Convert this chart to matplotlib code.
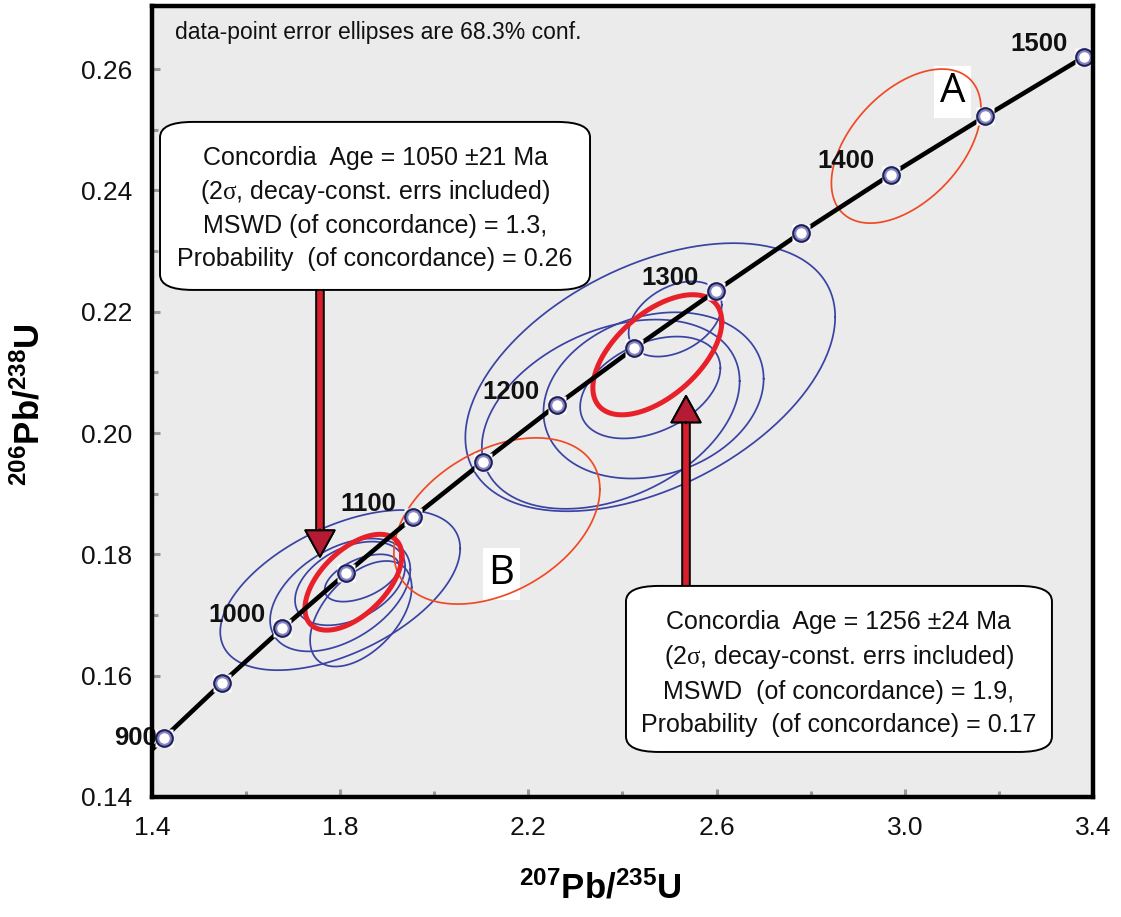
#!/usr/bin/python
# -*- coding:utf-8 -*-
import numpy as np
import matplotlib as mpl
mpl.use('Agg')
from matplotlib import pyplot as plt
from matplotlib.patches import FancyBboxPatch, FancyArrowPatch

plt.rcParams['font.family'] = ['Liberation Sans', 'DejaVu Sans']
plt.rcParams['mathtext.fontset'] = 'custom'
plt.rcParams['mathtext.rm'] = 'Liberation Serif'
plt.rcParams['mathtext.it'] = 'Liberation Serif:italic'
plt.rcParams['mathtext.bf'] = 'Liberation Sans:bold'

# concordia curve, 50 Ma steps
ages = [850, 900, 950, 1000, 1050, 1100, 1150, 1200, 1250, 1300, 1350, 1400, 1450, 1500]
conc_x = [1.310, 1.426, 1.549, 1.677, 1.813, 1.955, 2.104, 2.260, 2.425, 2.598, 2.779, 2.970, 3.171, 3.381]
conc_y = [0.1409, 0.1498, 0.1588, 0.1678, 0.1769, 0.1861, 0.1953, 0.2046, 0.2140, 0.2234, 0.2330, 0.2426, 0.2522, 0.2620]
age_labels = [900, 1000, 1100, 1200, 1300, 1400, 1500]

# analyses: 207Pb/235U, half-width, 206Pb/238U, half-height, error correlation
blue_x   = [1.800, 1.800, 1.821, 1.844, 1.846, 2.459, 2.375, 2.466, 2.459, 2.512]
blue_dx  = [0.255, 0.149, 0.117, 0.108, 0.079, 0.393, 0.274, 0.234, 0.149, 0.099]
blue_y   = [0.1741, 0.1733, 0.1752, 0.1702, 0.1761, 0.2092, 0.2031, 0.2062, 0.2075, 0.2188]
blue_dy  = [0.0132, 0.0093, 0.0069, 0.0087, 0.0039, 0.0221, 0.0156, 0.0137, 0.0084, 0.0062]
blue_rho = [0.52, 0.45, 0.40, 0.50, 0.50, 0.45, 0.35, 0.20, 0.38, 0.37]

# excluded analyses A and B
disc_names = ['A', 'B']
disc_x   = [3.003, 2.133]
disc_dx  = [0.159, 0.219]
disc_y   = [0.2473, 0.1855]
disc_dy  = [0.0127, 0.0137]
disc_rho = [0.48, 0.38]
disc_lab_x = [3.102, 2.142]
disc_lab_y = [0.2562, 0.1768]

# concordia ages (weighted mean ellipses)
cage_x   = [1.828, 2.474]
cage_dx  = [0.103, 0.137]
cage_y   = [0.1754, 0.2129]
cage_dy  = [0.0079, 0.0099]
cage_rho = [0.55, 0.55]
cage_text = [
    ['Concordia  Age = 1050 \u00b121 Ma',
     '(2$\\mathrm{\\sigma}$, decay-const. errs included)',
     'MSWD (of concordance) = 1.3,',
     'Probability  (of concordance) = 0.26'],
    ['Concordia  Age = 1256 \u00b124 Ma',
     '(2$\\mathrm{\\sigma}$, decay-const. errs included)',
     'MSWD  (of concordance) = 1.9,',
     'Probability  (of concordance) = 0.17'],
]

def ellipse(x, dx, y, dy, rho, n=240):
    t = np.linspace(0, 2 * np.pi, n)
    ex = x + dx * np.cos(t)
    ey = y + dy * (rho * np.cos(t) + np.sqrt(1 - rho ** 2) * np.sin(t))
    return ex, ey

fig = plt.figure(figsize=(11.21, 9.17), dpi=100)
axe = fig.add_axes([0.1356, 0.1309, 0.8394, 0.8626])
axe.set_facecolor('#ebebeb')

for i in range(len(blue_x)):
    ex, ey = ellipse(blue_x[i], blue_dx[i], blue_y[i], blue_dy[i], blue_rho[i])
    axe.plot(ex, ey, color='#3a43a3', lw=1.25, zorder=2)

for i in range(len(disc_x)):
    ex, ey = ellipse(disc_x[i], disc_dx[i], disc_y[i], disc_dy[i], disc_rho[i])
    axe.plot(ex, ey, color='#f04a25', lw=1.25, zorder=2)
    axe.text(disc_lab_x[i], disc_lab_y[i], disc_names[i], fontsize=29, family='Open Sans',
             ha='center', va='center', zorder=1.5,
             bbox=dict(boxstyle='square,pad=0.14', fc='white', ec='none'))

for i in range(len(cage_x)):
    ex, ey = ellipse(cage_x[i], cage_dx[i], cage_y[i], cage_dy[i], cage_rho[i])
    axe.plot(ex, ey, color='#e8202a', lw=3.6, zorder=3)

# concordia with age markers
axe.plot(conc_x, conc_y, color='black', lw=3.3, zorder=4, solid_capstyle='butt')
axe.plot(conc_x, conc_y, 's', ms=13, mfc='white', mec='none', zorder=5)
axe.plot(conc_x, conc_y, 'o', ms=13.5, mfc='#1f1f5c', mec='none', zorder=5)
axe.plot(conc_x, conc_y, 'o', ms=10.5, mfc='#8686c0', mec='none', zorder=5)
axe.plot(conc_x, conc_y, 'o', ms=7.5, mfc='white', mec='none', zorder=5)

for a, x, y in zip(ages, conc_x, conc_y):
    if a in age_labels:
        off = (-5, 0) if a == 900 else (-12, 9.5)
        axe.annotate(str(a), (x, y), xytext=off, textcoords='offset points',
                     ha='right', va='center', fontsize=18.5, fontweight='bold',
                     color='#111111', zorder=6)

# result boxes and arrows
boxes = [(0.0085, 0.641, 0.457, 0.2124), (0.5037, 0.0569, 0.4527, 0.2099)]
text_cx = [0.237, 0.730]
text_ys = [[0.8078, 0.7649, 0.7219, 0.6802], [0.2212, 0.1770, 0.1327, 0.0910]]
for b, cx, ys, lines in zip(boxes, text_cx, text_ys, cage_text):
    p = FancyBboxPatch((b[0], b[1]), b[2], b[3], transform=axe.transAxes,
                       boxstyle='round,pad=0,rounding_size=0.035',
                       fc='white', ec='black', lw=1.4, zorder=8,
                       mutation_aspect=b[3] / b[2] * 1.2)
    axe.add_patch(p)
    for y, s in zip(ys, lines):
        axe.text(cx, y, s, transform=axe.transAxes, ha='center', va='center',
                 fontsize=18, color='#111111', zorder=9)

arrows = [((1.757, 0.2262), (1.757, 0.1796)), ((2.535, 0.1720), (2.535, 0.2061))]
for tail, tip in arrows:
    arr = FancyArrowPatch(tail, tip, arrowstyle='simple,head_length=19,head_width=21,tail_width=5.5',
                          mutation_scale=1, fc='#d81e2c', ec='black', lw=1.4, zorder=6,
                          shrinkA=0, shrinkB=0)
    axe.add_patch(arr)
    d = np.sign(tip[1] - tail[1]) * 0.0045
    head = FancyArrowPatch((tip[0], tip[1] - d), tip,
                           arrowstyle='simple,head_length=19,head_width=21,tail_width=0.1',
                           mutation_scale=1, fc='#b51b32', ec='black', lw=1.4, zorder=6.5,
                           shrinkA=0, shrinkB=0)
    axe.add_patch(head)

axe.text(0.0244, 0.967, 'data-point error ellipses are 68.3% conf.', transform=axe.transAxes,
         ha='left', va='center', fontsize=16.5, color='#111111', zorder=9)

axe.set_xlim(1.4, 3.4)
axe.set_ylim(0.14, 0.2704)
axe.set_xticks([1.4, 1.8, 2.2, 2.6, 3.0, 3.4])
axe.set_xticklabels(['1.4', '1.8', '2.2', '2.6', '3.0', '3.4'])
axe.set_xticks([1.6, 2.0, 2.4, 2.8, 3.2], minor=True)
axe.set_yticks([0.14, 0.16, 0.18, 0.20, 0.22, 0.24, 0.26])
axe.set_yticklabels(['0.14', '0.16', '0.18', '0.20', '0.22', '0.24', '0.26'])
axe.set_yticks([0.15, 0.17, 0.19, 0.21, 0.23, 0.25], minor=True)
axe.tick_params(which='both', direction='in', color='#9a9a9a', width=2.2,
                labelsize=19, labelcolor='#111111', pad=14)
axe.tick_params(which='major', length=6)
axe.tick_params(which='minor', length=4)
for s in axe.spines.values():
    s.set_linewidth(3.2)
    s.set_color('black')
    s.set_zorder(10)

fig.text(0.536, 0.0316, r'$\mathbf{^{207}Pb/^{235}U}$', fontsize=25, ha='center', va='center')
fig.text(0.026, 0.5583, r'$\mathbf{^{206}Pb/^{238}U}$', fontsize=25, ha='center', va='center',
         rotation=90)

plt.savefig('out.png', dpi=100)
